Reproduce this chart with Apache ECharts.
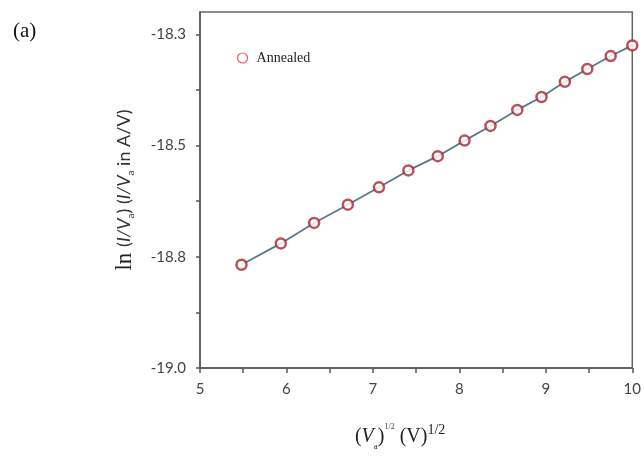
<!DOCTYPE html>
<html>
<head>
<meta charset="utf-8">
<script src="https://cdn.jsdelivr.net/npm/echarts@6/dist/echarts.min.js"></script>
<style>
  html, body { margin: 0; padding: 0; background: #fff; }
  #chart { width: 644px; height: 456px; }
</style>
</head>
<body>
<div id="chart"></div>
<script>
// (V_a)^1/2 values
const xValues = [5.48, 5.935, 6.32, 6.71, 7.07, 7.41, 7.75, 8.06, 8.36, 8.67, 8.95, 9.22, 9.48, 9.75, 10.0]
// ln(I/V_a)
const yValues = [-18.768, -18.720, -18.674, -18.633, -18.594, -18.556, -18.524, -18.489,
  -18.456, -18.420, -18.391, -18.357, -18.328, -18.299, -18.275]

const yTicks = [-19.0, -18.75, -18.5, -18.25]
const yTickLabels = ['-19.0', '-18.8', '-18.5', '-18.3']
const yMinorTicks = [-18.875, -18.625, -18.375]
const xTicks = [5, 6, 7, 8, 9, 10]

const seriesName = 'Annealed'

const points = xValues.map((x, i) => [x, yValues[i]])

const chart = echarts.init(document.getElementById('chart'), null, { renderer: 'canvas' })

const axisColor = '#555'
const markerRed = '#a82630'
const labelFont = 'Lato, "Open Sans", sans-serif'
const serif = '"Liberation Serif", "DejaVu Serif", serif'

chart.setOption({
  animation: false,
  backgroundColor: '#fff',
  grid: {
    left: 200,
    right: 11,
    top: 12,
    bottom: 84,
    show: true,
    borderColor: '#666',
    borderWidth: 1.5
  },
  graphic: [{
    type: 'text',
    left: 13,
    top: 21,
    style: { text: '(a)', font: '21px ' + serif, fill: '#111' }
  }],
  legend: {
    left: 232,
    top: 46,
    itemWidth: 10,
    itemHeight: 10,
    itemGap: 6,
    data: [{ name: seriesName, icon: 'circle', itemStyle: { color: '#fff', borderColor: '#d04048', borderWidth: 1.2 } }],
    textStyle: { fontFamily: serif, fontSize: 14, color: '#222', padding: [0, 0, 0, 4] }
  },
  xAxis: {
    type: 'value',
    min: 5,
    max: 10,
    interval: 1,
    name: '{p|(}{v|V}{sub|a}{p|)}{sup1|1/2}{p| (V)}{sup2|1/2}',
    nameLocation: 'middle',
    nameGap: 55,
    nameTextStyle: {
      padding: [0, 32, 0, 0],
      rich: {
        p: { fontFamily: serif, fontSize: 20, color: '#222' },
        v: { fontFamily: serif, fontSize: 20, fontStyle: 'italic', color: '#222' },
        sub: { fontFamily: serif, fontSize: 9, color: '#222', verticalAlign: 'bottom', padding: [10, 0, 0, 0] },
        sup1: { fontFamily: serif, fontSize: 8, color: '#444', verticalAlign: 'top', padding: [0, 0, 8, 0] },
        sup2: { fontFamily: serif, fontSize: 14, color: '#222', verticalAlign: 'top', padding: [0, 0, 14, 0] }
      }
    },
    axisLine: { show: true, onZero: false, lineStyle: { color: axisColor, width: 1.5 } },
    axisTick: { show: true, inside: false, length: 5, lineStyle: { color: axisColor, width: 1.5 } },
    minorTick: { show: true, splitNumber: 2, length: 5, lineStyle: { color: axisColor, width: 1.5 } },
    axisLabel: {
      margin: 14,
      fontFamily: labelFont,
      fontSize: 15,
      color: '#444',
      customValues: xTicks
    },
    splitLine: { show: false }
  },
  yAxis: {
    type: 'value',
    min: -19.0,
    max: -18.2,
    name: '{ln|ln }{p|(}{v|I/V}{sub|a}{p|) (}{v|I/V}{sub|a}{p| in A/V)}',
    nameLocation: 'middle',
    nameGap: 64,
    nameRotate: 90,
    nameTextStyle: {
      rich: {
        ln: { fontFamily: serif, fontSize: 23, color: '#222' },
        p: { fontFamily: labelFont, fontSize: 18, color: '#333' },
        v: { fontFamily: labelFont, fontSize: 18, fontStyle: 'italic', color: '#333' },
        sub: { fontFamily: labelFont, fontSize: 10, color: '#333', verticalAlign: 'bottom', padding: [12, 0, 0, 0] }
      }
    },
    axisLine: { show: true, onZero: false, lineStyle: { color: axisColor, width: 1.5 } },
    axisTick: {
      show: true,
      inside: false,
      length: 4,
      customValues: yTicks.concat(yMinorTicks),
      lineStyle: { color: axisColor, width: 1.5 }
    },
    axisLabel: {
      margin: 14,
      fontFamily: labelFont,
      fontSize: 15,
      color: '#444',
      customValues: yTicks,
      formatter: function (v) {
        const i = yTicks.findIndex(t => Math.abs(t - v) < 1e-6)
        return i >= 0 ? yTickLabels[i] : ''
      }
    },
    splitLine: { show: false }
  },
  series: [{
    name: 'fit',
    type: 'line',
    data: points,
    showSymbol: false,
    symbol: 'none',
    lineStyle: { color: '#5c7888', width: 1.8 },
    silent: true,
    z: 1
  }, {
    name: seriesName,
    type: 'scatter',
    data: points,
    symbol: 'circle',
    symbolSize: 10,
    itemStyle: { color: '#fff', borderColor: markerRed, borderWidth: 2.5 },
    z: 3
  }]
})

window.addEventListener('resize', () => chart.resize())
</script>
</body>
</html>
